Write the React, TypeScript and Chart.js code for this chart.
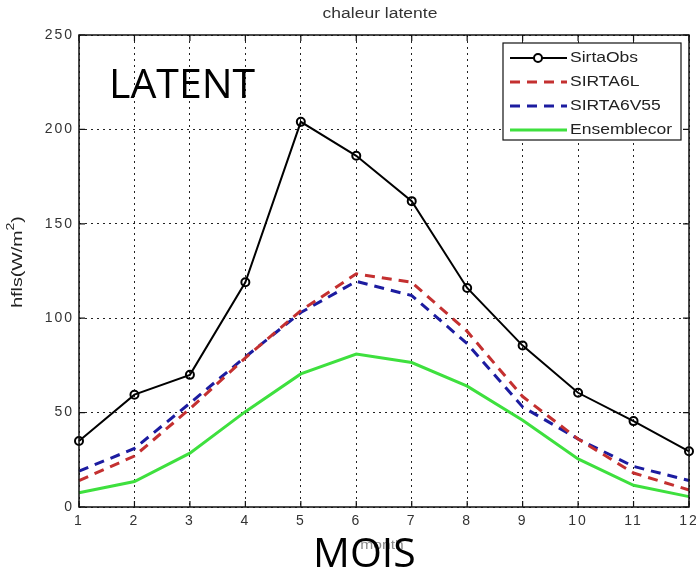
import React, { useEffect, useRef } from 'react';
import { Chart, registerables } from 'chart.js';

Chart.register(...registerables);

const months = ['1', '2', '3', '4', '5', '6', '7', '8', '9', '10', '11', '12'];
const sirtaObs = [35, 59.5, 70, 119, 204, 186, 162, 116, 85.5, 60.5, 45.5, 29.5];
const sirta6L = [14, 27, 52, 79, 104, 123.5, 119, 93, 58.5, 36, 18, 9];
const sirta6V55 = [19, 31, 55, 79.5, 103, 119.5, 112, 86.5, 53, 36, 21.5, 14];
const ensemblecor = [7.5, 13.5, 28.5, 50.5, 70.5, 81, 76.5, 64, 46, 25.5, 11.5, 5.5];
const yMin = 0;
const yMax = 250;
const yStep = 50;
const titleText = 'chaleur latente';
const yLabelMain = 'hfls(W/m';
const yLabelSup = '2';
const yLabelEnd = ')';
const xLabelText = 'month';
const bigTopText = 'LATENT';
const bigBottomText = 'MOIS';

const FONT = '"Liberation Sans", Arial, sans-serif';

function stretchText(
  ctx: CanvasRenderingContext2D,
  text: string,
  x: number,
  y: number,
  sx: number,
  align: 'left' | 'center'
) {
  ctx.save();
  ctx.translate(x, y);
  ctx.scale(sx, 1);
  ctx.textAlign = align;
  ctx.fillText(text, 0, 0);
  ctx.restore();
}

const spacingPlugin = {
  id: 'spacing',
  beforeDraw(chart: any) {
    (chart.ctx as any).letterSpacing = '2px';
  },
};

const overlayPlugin = {
  id: 'overlay',
  afterDraw(chart: any) {
    const ctx = chart.ctx as CanvasRenderingContext2D;
    (ctx as any).letterSpacing = '0px';
    const area = chart.chartArea;
    const sx = chart.scales.x;
    const sy = chart.scales.y;
    ctx.save();
    // frame
    ctx.strokeStyle = '#111';
    ctx.lineWidth = 1.5;
    ctx.setLineDash([]);
    ctx.strokeRect(area.left, area.top, area.right - area.left, area.bottom - area.top);
    // inward ticks
    ctx.lineWidth = 1.2;
    const tl = 6;
    sx.ticks.forEach((_t: any, i: number) => {
      const px = sx.getPixelForTick(i);
      ctx.beginPath();
      ctx.moveTo(px, area.bottom);
      ctx.lineTo(px, area.bottom - tl);
      ctx.moveTo(px, area.top);
      ctx.lineTo(px, area.top + tl);
      ctx.stroke();
    });
    sy.ticks.forEach((_t: any, i: number) => {
      const py = sy.getPixelForTick(i);
      ctx.beginPath();
      ctx.moveTo(area.left, py);
      ctx.lineTo(area.left + tl, py);
      ctx.moveTo(area.right, py);
      ctx.lineTo(area.right - tl, py);
      ctx.stroke();
    });

    // title
    ctx.fillStyle = '#333';
    ctx.font = `14px ${FONT}`;
    ctx.textBaseline = 'middle';
    stretchText(ctx, titleText, (area.left + area.right) / 2 - 4, 14, 1.25, 'center');

    // y label rotated with superscript
    ctx.save();
    ctx.translate(18, 262);
    ctx.rotate(-Math.PI / 2);
    ctx.scale(1.4, 1);
    ctx.textAlign = 'left';
    ctx.textBaseline = 'middle';
    ctx.fillStyle = '#222';
    ctx.font = `14px ${FONT}`;
    const w1 = ctx.measureText(yLabelMain).width;
    ctx.font = `10px ${FONT}`;
    const w2 = ctx.measureText(yLabelSup).width;
    ctx.font = `14px ${FONT}`;
    const w3 = ctx.measureText(yLabelEnd).width;
    let x0 = -(w1 + w2 + w3) / 2;
    ctx.fillText(yLabelMain, x0, 0);
    x0 += w1;
    ctx.font = `10px ${FONT}`;
    ctx.fillText(yLabelSup, x0, -7);
    x0 += w2;
    ctx.font = `14px ${FONT}`;
    ctx.fillText(yLabelEnd, x0, 0);
    ctx.restore();

    // small x label
    ctx.fillStyle = '#888';
    ctx.font = `13px ${FONT}`;
    ctx.textBaseline = 'middle';
    stretchText(ctx, xLabelText, 382, 545, 1.2, 'center');

    // legend
    const lx = area.right - 186;
    const ly = area.top + 8;
    const lw = 178;
    const lh = 97;
    ctx.fillStyle = '#fff';
    ctx.fillRect(lx, ly, lw, lh);
    ctx.strokeStyle = '#111';
    ctx.lineWidth = 1.2;
    ctx.strokeRect(lx, ly, lw, lh);
    chart.data.datasets.forEach((ds: any, i: number) => {
      const yy = ly + 15 + i * 24;
      ctx.save();
      ctx.strokeStyle = ds.borderColor;
      ctx.lineWidth = ds.borderWidth;
      ctx.setLineDash(ds.borderDash || []);
      ctx.beginPath();
      ctx.moveTo(lx + 7, yy);
      ctx.lineTo(lx + 64, yy);
      ctx.stroke();
      if (ds.pointRadius > 0) {
        ctx.setLineDash([]);
        ctx.fillStyle = '#fff';
        ctx.lineWidth = ds.pointBorderWidth;
        ctx.beginPath();
        ctx.arc(lx + 35, yy, ds.pointRadius, 0, Math.PI * 2);
        ctx.fill();
        ctx.stroke();
      }
      ctx.restore();
      ctx.fillStyle = '#222';
      ctx.font = `14px ${FONT}`;
      ctx.textBaseline = 'middle';
      stretchText(ctx, ds.label, lx + 67, yy, 1.25, 'left');
    });

    // big overlay texts
    ctx.fillStyle = '#000';
    ctx.font = `41px "Open Sans", ${FONT}`;
    ctx.textAlign = 'left';
    ctx.textBaseline = 'alphabetic';
    ctx.fillText(bigTopText, 109, 98);
    ctx.fillText(bigBottomText, 313, 567);
    ctx.restore();
  },
};

export default function App() {
  const ref = useRef<HTMLCanvasElement | null>(null);
  useEffect(() => {
    if (!ref.current) return;
    const chart = new Chart(ref.current, {
      type: 'line',
      data: {
        labels: months,
        datasets: [
          {
            label: 'SirtaObs',
            data: sirtaObs,
            borderColor: '#000',
            borderWidth: 2,
            pointRadius: 4,
            pointBorderWidth: 2,
            pointBackgroundColor: 'rgba(255,255,255,0)',
            pointBorderColor: '#000',
            tension: 0,
          },
          {
            label: 'SIRTA6L',
            data: sirta6L,
            borderColor: '#c43030',
            borderWidth: 3,
            borderDash: [10, 7],
            pointRadius: 0,
            tension: 0,
          },
          {
            label: 'SIRTA6V55',
            data: sirta6V55,
            borderColor: '#1c1ca0',
            borderWidth: 3,
            borderDash: [10, 7],
            pointRadius: 0,
            tension: 0,
          },
          {
            label: 'Ensemblecor',
            data: ensemblecor,
            borderColor: '#3ee03e',
            borderWidth: 3,
            pointRadius: 0,
            tension: 0,
          },
        ],
      },
      options: {
        responsive: false,
        animation: false,
        layout: { padding: { left: 0, right: 7, top: 35, bottom: 0 } },
        plugins: {
          legend: { display: false },
          title: { display: false },
          tooltip: { enabled: false },
        },
        scales: {
          x: {
            offset: false,
            grid: { color: '#222', lineWidth: 1, drawTicks: false, offset: false },
            border: { display: false, dash: [2, 4] },
            ticks: {
              color: '#333',
              font: { family: FONT, size: 14 },
              padding: 6,
              maxRotation: 0,
              autoSkip: false,
            },
            afterFit(scale: any) {
              scale.height = 66;
              scale.paddingRight = 0;
              scale.paddingLeft = 0;
            },
          },
          y: {
            min: yMin,
            max: yMax,
            grid: { color: '#222', lineWidth: 1, drawTicks: false },
            border: { display: false, dash: [2, 4] },
            ticks: {
              stepSize: yStep,
              color: '#333',
              font: { family: FONT, size: 14 },
              padding: 5,
            },
            afterFit(scale: any) {
              scale.width = 79;
              scale.paddingTop = 0;
              scale.paddingBottom = 0;
            },
          },
        },
      },
      plugins: [spacingPlugin, overlayPlugin],
    });
    return () => chart.destroy();
  }, []);
  return (
    <div style={{ position: 'absolute', left: 0, top: 0, width: 696, height: 573, background: '#fff' }}>
      <canvas ref={ref} width={696} height={573} style={{ display: 'block' }} />
    </div>
  );
}
